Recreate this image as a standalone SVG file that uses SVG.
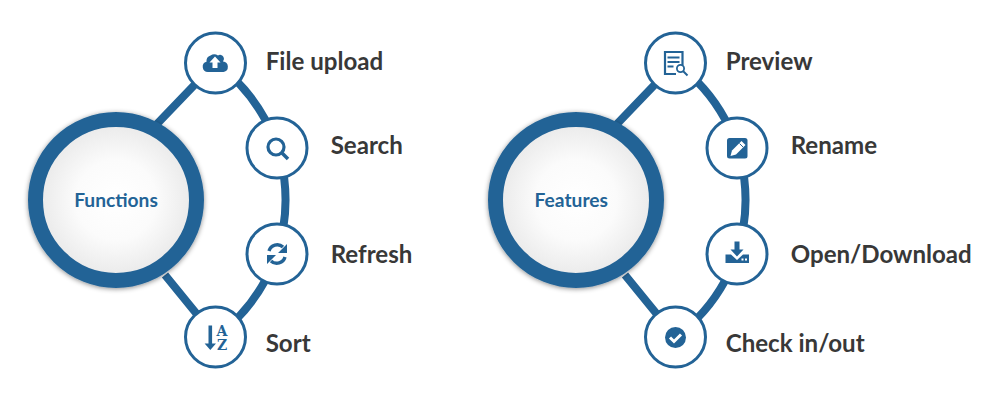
<svg xmlns="http://www.w3.org/2000/svg" width="1000" height="400" viewBox="0 0 1000 400">
<style>
.lnk{fill:none;stroke:#236396;stroke-width:8}
.hub{fill:url(#hubfill);stroke:#236396;stroke-width:15;filter:url(#sh)}
.sat{fill:#fff;stroke:#236396;stroke-width:3}
.ic{fill:#236396}
.icl{fill:none;stroke:#236396}
.hubt{font:700 19.2px Lato,sans-serif;fill:#236396;text-anchor:middle}
.lab{font:700 24.1px Lato,sans-serif;fill:#383838}
.slab{font:700 14px "DejaVu Serif",serif;fill:#236396;text-anchor:middle}
</style>
<defs>
<radialGradient id="hubfill"><stop offset="0" stop-color="#fff"/><stop offset=".5" stop-color="#fbfbfb"/><stop offset="1" stop-color="#e8e8e8"/></radialGradient>
<filter id="sh" x="-10%" y="-10%" width="120%" height="120%"><feDropShadow dx="0" dy="1" stdDeviation="2.500" flood-color="#000" flood-opacity=".45"/></filter>
</defs>
<g id="connectors">
<path class="lnk" d="M215.5 63A169 169 0 0 1 215.5 337M156 125L215.5 63M165 275L215.5 337"/>
<path class="lnk" d="M675.5 63A169 169 0 0 1 675.5 337M616 125L675.5 63M625 275L675.5 337"/>
</g>
<g id="functions"><circle class="hub" cx="116" cy="200" r="80.5"/><text class="hubt" x="116" y="207">Functions</text></g>
<g id="file-upload"><circle class="sat" cx="215.5" cy="63" r="30"/>
<path class="ic" d="M208 72a5.200 5.200 0 0 1-1.500-10.200a6 6 0 0 1 4-6.300a6.500 6.500 0 0 1 7.500 0a3.800 3.800 0 0 1 5.500 1.500a3.800 3.800 0 0 1-.5 4.500a5.300 5.300 0 0 1 .500 10.500z"/>
<path fill="#fff" d="M215 56.500l5.500 6h-3v5.500h-5v-5.500h-3z"/>
<text class="lab" x="265.700" y="70">File upload</text></g>
<g id="search"><circle class="sat" cx="277" cy="148" r="30"/>
<circle class="icl" cx="276" cy="147" r="8" stroke-width="3.200"/><path class="icl" stroke-width="3.600" d="M281.500 152.500l6.500 6.500"/>
<text class="lab" x="330.700" y="154">Search</text></g>
<g id="refresh"><circle class="sat" cx="277" cy="254" r="30"/>
<path class="icl" stroke-width="3.400" d="M269 251a8.500 8.500 0 0 1 14-4M285 257a8.500 8.500 0 0 1-14 4"/>
<path class="ic" d="M287 244v9h-9zM267 264v-9h9z"/>
<text class="lab" x="330.700" y="263">Refresh</text></g>
<g id="sort"><circle class="sat" cx="215.500" cy="337" r="30"/>
<path class="ic" d="M208.500 325.500h3.600v18h3.900l-5.700 6.500-5.700-6.500h3.900z"/>
<text class="slab" x="222" y="336">A</text>
<text class="slab" x="222" y="350">Z</text>
<text class="lab" x="265.700" y="352">Sort</text></g>
<g id="features"><circle class="hub" cx="576" cy="200" r="80.5"/><text class="hubt" x="571.300" y="207">Features</text></g>
<g id="preview"><circle class="sat" cx="675.500" cy="63" r="30"/>
<path class="icl" stroke-width="2.200" d="M682.500 65V52h-17.500v22h11"/>
<path class="icl" stroke-width="2" d="M667.500 57.500h12M667.500 62h12M667.500 66.500h6"/>
<circle class="icl" cx="680.500" cy="68.500" r="3.600" stroke-width="1.800"/><path class="icl" stroke-width="2" d="M683 71l4.500 4.500"/>
<text class="lab" x="725.700" y="70">Preview</text></g>
<g id="rename"><circle class="sat" cx="737" cy="148" r="30"/>
<rect class="ic" x="727" y="138" width="20.500" height="20.500" rx="2.500"/>
<path fill="#fff" d="M741.500 141l4 4-9.500 9.500-5.500 1.500 1.500-5.500z"/>
<path fill="none" stroke="#236396" d="M739.500 143.500l3.500 3.500"/>
<text class="lab" x="790.700" y="154">Rename</text></g>
<g id="open-download"><circle class="sat" cx="737" cy="254" r="30"/>
<path class="ic" d="M734.500 241.500h5v8h4l-6.500 7-6.500-7h4z"/>
<path class="ic" d="M725.500 254.500h5.500l6 5.500 6-5.500h6v8.500h-23.500z"/>
<path fill="#fff" d="M741.500 258.500h2v2h-2zM745 258.500h2v2h-2z"/>
<text class="lab" x="790.700" y="263">Open/Download</text></g>
<g id="check-in-out"><circle class="sat" cx="675.500" cy="337" r="30"/>
<circle class="ic" cx="675.500" cy="337.500" r="10.500"/>
<path fill="none" stroke="#fff" stroke-width="3" d="M670 337.500l4 4 7-7"/>
<text class="lab" x="725.700" y="352">Check in/out</text></g>
</svg>
